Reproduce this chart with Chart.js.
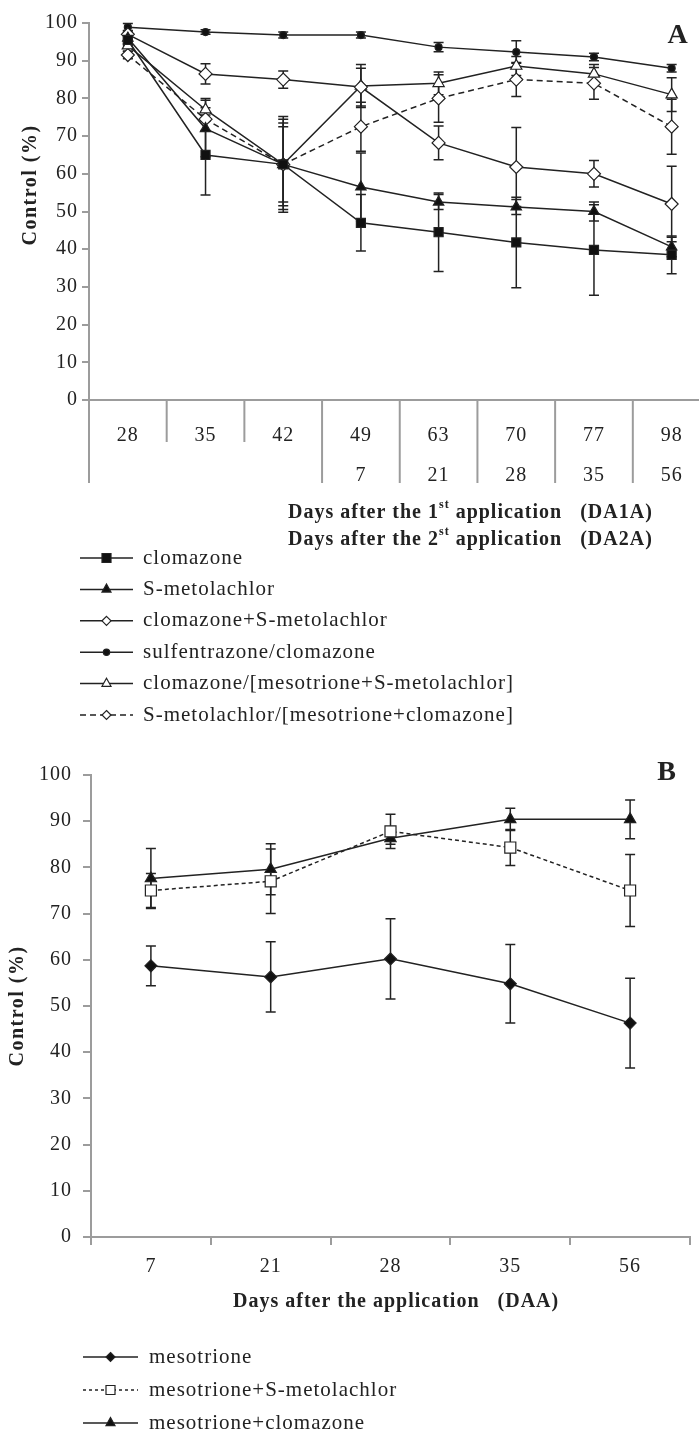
<!DOCTYPE html>
<html>
<head>
  <title>Control (%) - A / B</title>
  <script src="https://cdn.jsdelivr.net/npm/chart.js"></script>
  <style>
    body { margin: 0; background: #fff; }
    #wrap { position: relative; width: 699px; height: 1434px; overflow: hidden; }
    #chartA { position: absolute; left: 0; top: 0; }
    #chartB { position: absolute; left: 0; top: 740px; }
  </style>
</head>
<body>
<div id="wrap">
  <canvas id="chartA" width="720" height="740"></canvas>
  <canvas id="chartB" width="699" height="694"></canvas>
</div>
<script>
// ---- data, chart A ----
var daysFirst  = ['28', '35', '42', '49', '63', '70', '77', '98'];
var daysSecond = ['',   '',   '',   '7',  '21', '28', '35', '56'];

var clomazone       = [95.5, 65, 62.5, 47, 44.5, 41.8, 39.8, 38.5];
var clomazoneErr    = [1.5, 10.6, 12.7, 7.5, 10.4, 12, 12, 5];
var sMetolachlor    = [96, 72, 62.5, 56.5, 52.5, 51.2, 50, 40.6];
var sMetolachlorErr = [1.5, 7.5, 10, 9, 2, 2, 2.5, 2.6];
var clomS           = [97, 86.5, 85, 83, 68.2, 61.8, 60, 52];
var clomSErr        = [1, 2.7, 2.3, 5, 4.5, 10.5, 3.5, 10];
var sulfClom        = [98.9, 97.6, 96.8, 96.8, 93.6, 92.3, 91, 88];
var sulfClomErr     = [1, 0.6, 0.8, 0.8, 1.2, 3, 1, 1];
var clomMesoS       = [94, 77, 62.5, 83.3, 84, 88.6, 86.5, 81];
var clomMesoSErr    = [1.5, 3, 11, 5.7, 3, 2.5, 2.5, 4.5];
var sMetoMesoC      = [91.5, 74.5, 62.5, 72.5, 80, 85, 84, 72.5];
var sMetoMesoCErr   = [1, 3, 12, 6.5, 6.3, 4.5, 4.2, 7.3];

// ---- data, chart B ----
var daysB       = ['7', '21', '28', '35', '56'];
var mesotrione  = [58.7, 56.3, 60.2, 54.8, 46.3];
var mesoErr     = [4.3, 7.6, 8.7, 8.5, 9.7];
var mesoS       = [75, 77, 87.8, 84.3, 75];
var mesoSErr    = [3.7, 7, 3.7, 3.9, 7.8];
var mesoC       = [77.6, 79.6, 86.3, 90.4, 90.4];
var mesoCErr    = [6.5, 5.5, 1.3, 2.4, 4.2];

var yTicks = [0, 10, 20, 30, 40, 50, 60, 70, 80, 90, 100];

var INK = '#222';
var GRAY = '#9c9c9c';
var SERIF = '"Liberation Serif", "Times New Roman", serif';

Chart.defaults.font.family = SERIF;
Chart.defaults.font.size = 20;
Chart.defaults.color = INK;

function series(label, data, errors, style, radius, filled, dash) {
  return {
    label: label,
    data: data,
    errors: errors,
    borderColor: INK,
    borderWidth: 1.5,
    borderDash: dash || [],
    pointStyle: style,
    pointRadius: radius,
    pointHoverRadius: radius,
    pointBorderColor: INK,
    pointBorderWidth: 1.2,
    pointBackgroundColor: filled ? '#111' : '#fff',
    fill: false,
    tension: 0
  };
}

// error bars under the markers
var errorBars = {
  id: 'errorBars',
  beforeDatasetsDraw: function(chart) {
    var ctx = chart.ctx, x = chart.scales.x, y = chart.scales.y;
    ctx.save();
    ctx.strokeStyle = INK;
    ctx.lineWidth = 1.5;
    chart.data.datasets.forEach(function(ds) {
      if (!ds.errors) return;
      ds.data.forEach(function(v, i) {
        var px = x.getPixelForValue(i);
        var t = y.getPixelForValue(v + ds.errors[i]);
        var b = y.getPixelForValue(v - ds.errors[i]);
        ctx.beginPath();
        ctx.moveTo(px, t); ctx.lineTo(px, b);
        ctx.moveTo(px - 5, t); ctx.lineTo(px + 5, t);
        ctx.moveTo(px - 5, b); ctx.lineTo(px + 5, b);
        ctx.stroke();
      });
    });
    ctx.restore();
  }
};

var spacing = {
  id: 'spacing',
  beforeDraw: function(chart) { chart.ctx.letterSpacing = '1px'; }
};

function marker(ctx, ds, x, y, r) {
  ctx.beginPath();
  if (ds.pointStyle === 'rect') {
    ctx.rect(x - r, y - r, 2 * r, 2 * r);
  } else if (ds.pointStyle === 'triangle') {
    ctx.moveTo(x, y - r * 1.2); ctx.lineTo(x + r, y + r * 0.6); ctx.lineTo(x - r, y + r * 0.6); ctx.closePath();
  } else if (ds.pointStyle === 'rectRot') {
    ctx.moveTo(x, y - r); ctx.lineTo(x + r, y); ctx.lineTo(x, y + r); ctx.lineTo(x - r, y); ctx.closePath();
  } else {
    ctx.arc(x, y, r * 0.7, 0, Math.PI * 2);
  }
  ctx.fillStyle = ds.pointBackgroundColor;
  ctx.fill();
  ctx.lineWidth = 1.2;
  ctx.setLineDash([]);
  ctx.strokeStyle = INK;
  ctx.stroke();
}

function drawLegend(chart, opts) {
  var ctx = chart.ctx;
  ctx.save();
  ctx.font = '21px ' + SERIF;
  ctx.letterSpacing = '1px';
  ctx.textBaseline = 'middle';
  ctx.fillStyle = INK;
  chart.data.datasets.forEach(function(ds, i) {
    var y = opts.top + i * opts.step;
    ctx.beginPath();
    ctx.setLineDash(ds.borderDash.length ? opts.dash : []);
    ctx.strokeStyle = INK;
    ctx.lineWidth = 1.5;
    ctx.moveTo(opts.x0, y); ctx.lineTo(opts.x1, y);
    ctx.stroke();
    marker(ctx, ds, (opts.x0 + opts.x1) / 2, y, opts.r);
    ctx.fillStyle = INK;
    ctx.fillText(ds.label, opts.tx, y);
  });
  ctx.restore();
}

function drawSupText(ctx, parts, x, y, size) {
  parts.forEach(function(p) {
    if (p.sup) {
      ctx.font = 'bold ' + Math.round(size * 0.6) + 'px ' + SERIF;
      ctx.fillText(p.t, x, y - size * 0.38);
    } else {
      ctx.font = 'bold ' + size + 'px ' + SERIF;
      ctx.fillText(p.t, x, y);
    }
    x += ctx.measureText(p.t).width;
  });
}

function drawYTitle(ctx, cx, cy) {
  ctx.save();
  ctx.translate(cx, cy);
  ctx.rotate(-Math.PI / 2);
  ctx.font = 'bold 20px ' + SERIF;
  ctx.letterSpacing = '1.5px';
  ctx.textAlign = 'center';
  ctx.textBaseline = 'middle';
  ctx.fillStyle = INK;
  ctx.fillText('Control (%)', 0, 0);
  ctx.restore();
}

// multi-level category axis of chart A, plus titles and legend
var decorA = {
  id: 'decorA',
  afterDraw: function(chart) {
    var ctx = chart.ctx, x = chart.scales.x, area = chart.chartArea;
    var n = daysFirst.length;
    ctx.save();
    ctx.strokeStyle = GRAY;
    ctx.lineWidth = 2;
    for (var i = 0; i <= n; i++) {
      var bx = i === 0 ? x.left : (i === n ? x.right : (x.getPixelForValue(i - 1) + x.getPixelForValue(i)) / 2);
      var deep = i === 0 || i === n || daysSecond[i - 1] !== '' || daysSecond[i] !== '';
      ctx.beginPath();
      ctx.moveTo(bx, area.bottom);
      ctx.lineTo(bx, area.bottom + (deep ? 83 : 42));
      ctx.stroke();
    }
    ctx.fillStyle = INK;
    ctx.letterSpacing = '1px';
    ctx.textBaseline = 'middle';
    drawSupText(ctx, [{t: 'Days after the 1'}, {t: 'st', sup: true}, {t: ' application   (DA1A)'}], 288, 513, 20);
    drawSupText(ctx, [{t: 'Days after the 2'}, {t: 'st', sup: true}, {t: ' application   (DA2A)'}], 288, 540, 20);
    ctx.font = 'bold 28px ' + SERIF;
    ctx.textAlign = 'center';
    ctx.fillText('A', 678, 36);
    ctx.restore();
    drawYTitle(ctx, 31, 185);
    drawLegend(chart, { top: 558, step: 31.4, x0: 80, x1: 133, tx: 143, r: 4.5, dash: [6, 4] });
  }
};

var decorB = {
  id: 'decorB',
  afterDraw: function(chart) {
    var ctx = chart.ctx;
    ctx.save();
    ctx.fillStyle = INK;
    ctx.letterSpacing = '1px';
    ctx.textBaseline = 'middle';
    drawSupText(ctx, [{t: 'Days after the application   (DAA)'}], 233, 562, 20);
    ctx.font = 'bold 28px ' + SERIF;
    ctx.textAlign = 'center';
    ctx.fillText('B', 667, 33);
    ctx.restore();
    drawYTitle(ctx, 18, 266);
    drawLegend(chart, { top: 617, step: 33, x0: 83, x1: 138, tx: 149, r: 4.5, dash: [3, 3] });
  }
};

function yScale(width, tickLen, pad) {
  return {
    min: 0, max: 100,
    afterBuildTicks: function(s) { s.ticks = yTicks.map(function(v) { return { value: v }; }); },
    afterFit: function(s) { s.width = width; },
    ticks: { padding: pad, color: INK, font: { size: 20 } },
    grid: { drawOnChartArea: false, tickLength: tickLen, color: GRAY, lineWidth: 2 },
    border: { color: GRAY, width: 2 }
  };
}

new Chart(document.getElementById('chartA'), {
  type: 'line',
  data: {
    labels: daysFirst.map(function(d, i) { return [d, daysSecond[i]]; }),
    datasets: [
      series('clomazone', clomazone, clomazoneErr, 'rect', 6.4, true),
      series('S-metolachlor', sMetolachlor, sMetolachlorErr, 'triangle', 6, true),
      series('clomazone+S-metolachlor', clomS, clomSErr, 'rectRot', 6.5, false),
      series('sulfentrazone/clomazone', sulfClom, sulfClomErr, 'circle', 3.5, true),
      series('clomazone/[mesotrione+S-metolachlor]', clomMesoS, clomMesoSErr, 'triangle', 6.5, false),
      series('S-metolachlor/[mesotrione+clomazone]', sMetoMesoC, sMetoMesoCErr, 'rectRot', 6.5, false, [6, 4])
    ]
  },
  options: {
    responsive: false,
    animation: false,
    layout: { padding: { top: 23, right: 9.5, left: 0, bottom: 0 } },
    plugins: { legend: { display: false }, tooltip: { enabled: false } },
    scales: {
      x: {
        offset: true,
        afterFit: function(s) { s.height = 340; },
        ticks: { padding: 8, color: INK, maxRotation: 0, autoSkip: false, font: { size: 20, lineHeight: 2 } },
        grid: { display: false },
        border: { color: GRAY, width: 2 }
      },
      y: yScale(89, 7, 4)
    }
  },
  plugins: [spacing, errorBars, decorA]
});

new Chart(document.getElementById('chartB'), {
  type: 'line',
  data: {
    labels: daysB,
    datasets: [
      series('mesotrione', mesotrione, mesoErr, 'rectRot', 6, true),
      series('mesotrione+S-metolachlor', mesoS, mesoSErr, 'rect', 7.8, false, [4, 3]),
      series('mesotrione+clomazone', mesoC, mesoCErr, 'triangle', 6.5, true)
    ]
  },
  options: {
    responsive: false,
    animation: false,
    layout: { padding: { top: 35, right: 1, left: 0, bottom: 0 } },
    plugins: { legend: { display: false }, tooltip: { enabled: false } },
    scales: {
      x: {
        offset: true,
        afterFit: function(s) { s.height = 197; },
        ticks: { padding: 10, color: INK, maxRotation: 0, autoSkip: false },
        grid: { offset: true, drawOnChartArea: false, tickLength: 8, color: GRAY, lineWidth: 2 },
        border: { color: GRAY, width: 2 }
      },
      y: yScale(91, 8, 11)
    }
  },
  plugins: [spacing, errorBars, decorB]
});
</script>
</body>
</html>
